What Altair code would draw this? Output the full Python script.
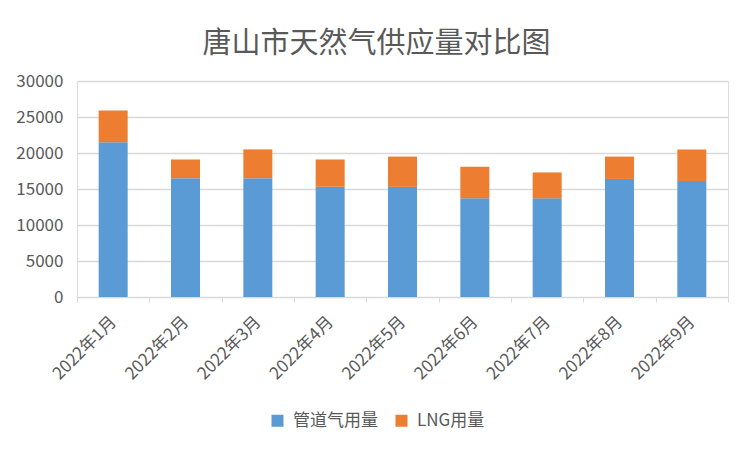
import altair as alt
import pandas as pd

months = ["2022年1月", "2022年2月", "2022年3月", "2022年4月", "2022年5月",
          "2022年6月", "2022年7月", "2022年8月", "2022年9月"]
pipeline = [21500, 16500, 16500, 15300, 15300, 13700, 13700, 16400, 16100]
totals = [25900, 19100, 20500, 19100, 19500, 18100, 17300, 19500, 20500]
lng = [t - p for t, p in zip(totals, pipeline)]
series = ["管道气用量", "LNG用量"]

rows = []
for m, p, l in zip(months, pipeline, lng):
    rows.append({"month": m, "series": series[0], "value": p, "idx": 0})
    rows.append({"month": m, "series": series[1], "value": l, "idx": 1})
df = pd.DataFrame(rows)

FONT = "Noto Sans CJK SC"

chart = alt.Chart(df).mark_bar(size=29).encode(
    x=alt.X("month:N", sort=months, title=None,
            scale=alt.Scale(paddingInner=0, paddingOuter=0),
            axis=alt.Axis(labelAngle=-45, labelAlign="right", labelBaseline="middle",
                          labelFontSize=17, labelColor="#595959", labelFont=FONT,
                          labelPadding=17, tickBand="extent",
                          tickColor="#d9d9d9", tickSize=5, domainColor="#d9d9d9",
                          grid=False)),
    y=alt.Y("value:Q", stack="zero", title=None,
            scale=alt.Scale(domain=[0, 30000]),
            axis=alt.Axis(values=[0, 5000, 10000, 15000, 20000, 25000, 30000],
                          format="d", labelFontSize=17, labelColor="#595959",
                          labelFont=FONT, labelPadding=14, domain=False, ticks=False,
                          gridColor="#d9d9d9", gridWidth=1.3)),
    color=alt.Color("series:N", sort=series,
                    scale=alt.Scale(domain=series, range=["#5b9bd5", "#ed7d31"]),
                    legend=alt.Legend(title=None, orient="none", direction="horizontal",
                                      legendX=192, legendY=331, symbolType="square",
                                      symbolSize=144, symbolStrokeWidth=0,
                                      labelFontSize=17, labelColor="#595959",
                                      labelFont=FONT, labelOffset=7, columnPadding=15)),
    order=alt.Order("idx:Q"),
).properties(
    width=651, height=216,
    title=alt.TitleParams("唐山市天然气供应量对比图", fontSize=29, font=FONT,
                          fontWeight="normal", color="#595959", offset=13, dx=-26),
    autosize=alt.AutoSizeParams(type="none"),
    padding={"left": 69, "top": 73, "right": 16, "bottom": 147},
).configure_view(stroke=None).configure(background="white")

chart.save("out.html", embed_options={"renderer": "svg", "actions": False})
